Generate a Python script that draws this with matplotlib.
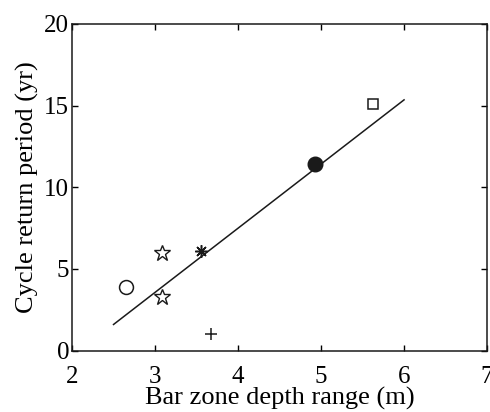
import matplotlib
matplotlib.use("Agg")
import matplotlib.pyplot as plt

plt.rcParams['font.family'] = ['Liberation Serif', 'DejaVu Serif']

# data (x: bar zone depth range, y: cycle return period)
open_circle_x = [2.65]
open_circle_y = [3.9]
star_x = [3.08, 3.08]
star_y = [5.95, 3.3]
asterisk_x = [3.55]
asterisk_y = [6.1]
plus_x = [3.68]
plus_y = [1.0]
filled_circle_x = [4.93]
filled_circle_y = [11.4]
square_x = [5.62]
square_y = [15.12]
fit_x = [2.5, 6.0]
fit_y = [1.6, 15.35]

xticks = [2, 3, 4, 5, 6, 7]
yticks = [0, 5, 10, 15, 20]

fig = plt.figure(figsize=(4.9, 4.12), dpi=100)
ax = fig.add_axes([0.147, 0.149, 0.847, 0.793])

ax.plot(fit_x, fit_y, color='#1a1a1a', lw=1.1)
ax.plot(open_circle_x, open_circle_y, 'o', ms=10, mfc='white', mec='#1a1a1a', mew=1.1)
ax.plot(star_x, star_y, '*', ms=12, mfc='white', mec='#1a1a1a', mew=1.0)
ax.plot(asterisk_x, asterisk_y, marker=(8, 2, 0), ms=9, color='#1a1a1a', mew=1.1, ls='none')
ax.plot(plus_x, plus_y, '+', ms=9, color='#1a1a1a', mew=1.1)
ax.plot(filled_circle_x, filled_circle_y, 'o', ms=10.5, color='#1a1a1a')
ax.plot(square_x, square_y, 's', ms=7.5, mfc='white', mec='#1a1a1a', mew=1.1)

ax.set_xlim(2, 7)
ax.set_ylim(0, 20)
ax.set_xticks(xticks)
ax.set_yticks(yticks)
ax.tick_params(direction='in', length=4, width=1, labelsize=18, top=True, right=True)
ax.tick_params(axis='y', pad=2)
ax.tick_params(axis='x', pad=11)
for s in ax.spines.values():
    s.set_linewidth(1.1)
    s.set_color('#1a1a1a')
ax.set_xlabel('Bar zone depth range (m)', fontsize=19, labelpad=-1)
ax.set_ylabel('Cycle return period (yr)', fontsize=19, labelpad=4)

fig.savefig('out.png', dpi=100)
